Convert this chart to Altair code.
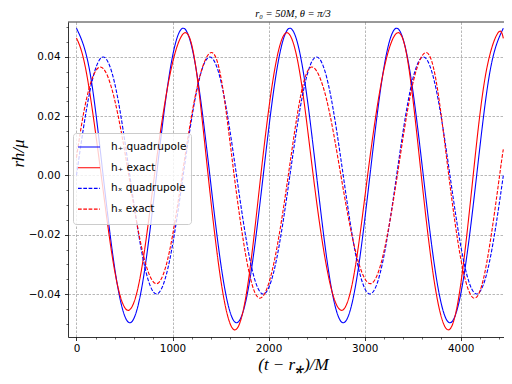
import altair as alt
import pandas as pd

# ---- data ----
t_grid = [0, 138.9, 277.8, 416.6, 555.5, 694.4, 833.3, 972.1, 1111, 1249.9, 1388.8,
          1527.6, 1666.5, 1805.4, 1944.3, 2083.1, 2222, 2360.9, 2499.8, 2638.6, 2777.5,
          2916.4, 3055.3, 3194.1, 3333, 3471.9, 3610.8, 3749.6, 3888.5, 4027.4, 4166.3,
          4305.1, 4444]
hp_quad = [0.0497, 0.0351, 0.0, -0.0351, -0.0497, -0.0351, 0.0, 0.0351,
           0.0497, 0.0351, 0.0, -0.0351, -0.0497, -0.0351, 0.0, 0.0351,
           0.0497, 0.0351, 0.0, -0.0351, -0.0497, -0.0351, 0.0, 0.0351,
           0.0497, 0.0351, 0.0, -0.0351, -0.0497, -0.0351, 0.0, 0.0351, 0.0497]
hx_quad = [0.0, 0.0283, 0.0400, 0.0283, 0.0, -0.0283, -0.0400, -0.0283,
           0.0, 0.0283, 0.0400, 0.0283, 0.0, -0.0283, -0.0400, -0.0283,
           0.0, 0.0283, 0.0400, 0.0283, 0.0, -0.0283, -0.0400, -0.0283,
           0.0, 0.0283, 0.0400, 0.0283, 0.0, -0.0283, -0.0400, -0.0283, 0.0]

t_hp_exact = [0, 107, 258, 398, 538, 675, 812, 974, 1135, 1253, 1371, 1510, 1649, 1784,
              1919, 2055, 2190, 2328, 2465, 2612, 2760, 2896, 3031, 3190, 3350, 3470,
              3590, 3730, 3871, 4000, 4130, 4260, 4390, 4444]
hp_exact = [0.0464, 0.0341, 0.0, -0.0322, -0.0455, -0.0322, 0.0, 0.0341, 0.0482, 0.0341,
            0.0, -0.0368, -0.0521, -0.0368, 0.0, 0.0341, 0.0482, 0.0341, 0.0, -0.0322,
            -0.0455, -0.0322, 0.0, 0.0341, 0.0482, 0.0341, 0.0, -0.0368, -0.0521, -0.0368,
            0.0, 0.0341, 0.0482, 0.0463]

t_hx_exact = [0, 105, 244, 395, 545, 689, 833, 967, 1100, 1253, 1406, 1524, 1642, 1776,
              1909, 2057, 2205, 2328, 2450, 2602, 2753, 2907, 3060, 3200, 3340, 3490,
              3640, 3758, 3876, 4008, 4140, 4272, 4405, 4444]
hx_exact = [0.006, 0.0259, 0.0366, 0.0259, 0.0, -0.0258, -0.0365, -0.0258, 0.0, 0.0293,
            0.0415, 0.0293, 0.0, -0.0293, -0.0414, -0.0293, 0.0, 0.0259, 0.0366, 0.0259,
            0.0, -0.0258, -0.0365, -0.0258, 0.0, 0.0293, 0.0415, 0.0293, 0.0, -0.0293,
            -0.0414, -0.0293, 0.0, 0.0088]

series_names = ["h₊ quadrupole", "h₊ exact", "hₓ quadrupole", "hₓ exact"]
series_colors = ["#0000ff", "#ff0000", "#0000ff", "#ff0000"]
series_dash = [[1, 0], [1, 0], [3.7, 1.6], [3.7, 1.6]]

x_major = [0, 1000, 2000, 3000, 4000]
x_minor = [200, 400, 600, 800, 1200, 1400, 1600, 1800, 2200, 2400, 2600, 2800,
           3200, 3400, 3600, 3800, 4200, 4400]
y_major = [-0.04, -0.02, 0.0, 0.02, 0.04]
y_minor = [-0.05, -0.045, -0.035, -0.03, -0.025, -0.015, -0.01, -0.005,
           0.005, 0.01, 0.015, 0.025, 0.03, 0.035, 0.045, 0.05]

rows = []
for name, ts, vs in [(series_names[0], t_grid, hp_quad),
                     (series_names[1], t_hp_exact, hp_exact),
                     (series_names[2], t_grid, hx_quad),
                     (series_names[3], t_hx_exact, hx_exact)]:
    for t, v in zip(ts, vs):
        rows.append({"t": t, "h": v, "series": name})
df = pd.DataFrame(rows)

W, H = 436, 315
xscale = alt.Scale(domain=[-88, 4451], nice=False, zero=False)
yscale = alt.Scale(domain=[-0.0545, 0.0518], nice=False, zero=False)

legend = alt.Legend(
    title=None, orient="none", legendX=5, legendY=111,
    labelFont="DejaVu Sans", labelFontSize=10.5, labelColor="black",
    symbolType="stroke", symbolSize=484, symbolStrokeWidth=1.1,
    labelOffset=10, clipHeight=20, rowPadding=0.7, padding=4,
    fillColor="rgba(255,255,255,0.8)", strokeColor="#cccccc", cornerRadius=3,
)

lines = alt.Chart(df).mark_line(strokeWidth=1.1, interpolate="natural", clip=True).encode(
    x=alt.X("t:Q", scale=xscale, axis=alt.Axis(
        values=x_major, format="d", title="(t − r⁎)/M", orient="bottom",
        tickSize=3.5, labelPadding=3, titlePadding=3, titleFontSize=17, titleX=225,
        grid=True)),
    y=alt.Y("h:Q", scale=yscale, axis=alt.Axis(
        values=y_major, format=".2f", title="rh/μ", orient="left",
        tickSize=3.5, labelPadding=4.5, titleFontSize=17, titleX=-41, titleY=131,
        grid=True)),
    color=alt.Color("series:N", sort=series_names,
                    scale=alt.Scale(domain=series_names, range=series_colors),
                    legend=legend),
    strokeDash=alt.StrokeDash("series:N", sort=series_names,
                              scale=alt.Scale(domain=series_names, range=series_dash),
                              legend=legend),
)

minor = alt.Chart(pd.DataFrame({"t": [0.0], "h": [0.0]})).mark_point(opacity=0).encode(
    x=alt.X("t:Q", scale=xscale, axis=alt.Axis(
        values=x_minor, labels=False, title=None, orient="bottom", tickSize=2,
        tickWidth=0.6, grid=False, domain=False)),
    y=alt.Y("h:Q", scale=yscale, axis=alt.Axis(
        values=y_minor, labels=False, title=None, orient="left", tickSize=2,
        tickWidth=0.6, grid=False, domain=False)),
)

top_spine = alt.Chart(pd.DataFrame({"a": [0]})).mark_rule(
    color="black", strokeWidth=0.8).encode(
    x=alt.value(0), x2=alt.value(W), y=alt.value(0))

chart = alt.layer(lines, minor, top_spine).resolve_axis(x="independent", y="independent").properties(
    width=W, height=H,
    autosize=alt.AutoSizeParams(type="none"),
    padding={"left": 60, "top": 14, "right": 0, "bottom": 37},
    title=alt.TitleParams(text="r₀ = 50M, θ = π/3", font="Liberation Serif", fontSize=10.5,
                          fontStyle="italic", fontWeight="normal", color="black",
                          anchor="middle", dx=7, offset=2),
).configure_view(stroke=None).configure_axis(
    labelFont="DejaVu Sans", labelFontSize=10.4, labelColor="black",
    tickColor="black", tickWidth=0.8, domainColor="black", domainWidth=0.8,
    gridColor="#9a9a9a", gridDash=[2.5, 1.5], gridWidth=0.7,
    titleFont="Liberation Serif", titleFontStyle="italic", titleFontWeight="normal",
    titleColor="black",
)

chart.save("out.html", embed_options={"renderer": "svg", "actions": False})
